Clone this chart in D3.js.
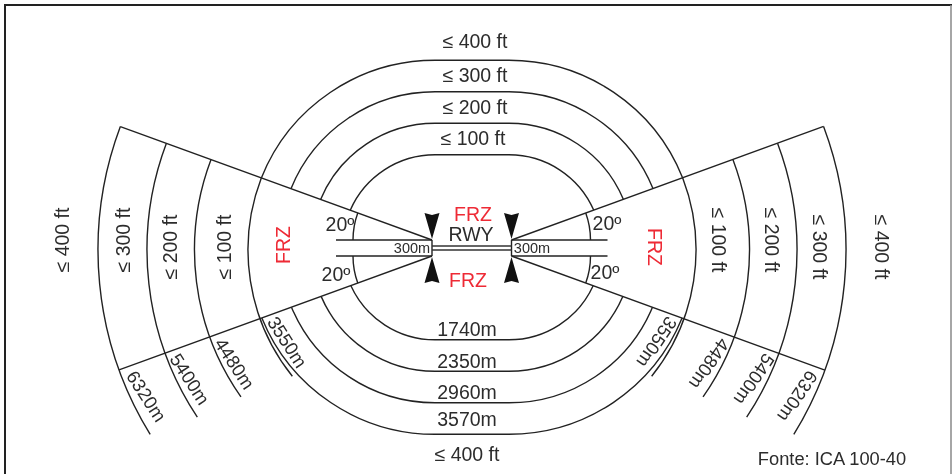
<!DOCTYPE html>
<html>
<head>
<meta charset="utf-8">
<script src="https://cdn.jsdelivr.net/npm/d3@7"></script>
<style>
  html, body { margin: 0; padding: 0; background: #fff; }
  svg { display: block; }
  #drawing { filter: blur(0.45px); }
  text { font-family: "Liberation Sans", Arial, sans-serif; fill: #2c2c2c; text-anchor: middle; dominant-baseline: central; }
</style>
</head>
<body>
<div id="chart"></div>
<script>
// limits in metres
const ringLimits = [1740, 2350, 2960, 3570];
const ringLabels = ["1740m", "2350m", "2960m", "3570m"];
const sectorLimits = [3550, 4480, 5400, 6320];
const sectorLabels = ["3550m", "4480m", "5400m", "6320m"];
const heightLabels = ["≤ 100 ft", "≤ 200 ft", "≤ 300 ft", "≤ 400 ft"];
const stripWidth = 300;
const stripLength = 1800;
const sectorAngle = 20;

const width = 952;
const height = 474;

// where the distance labels and the arc tails sit, degrees from the runway axis
const sectorTail = [38.7, 35.1, 33.5, 31.6];
const sectorLabelAngle = [29.5, 27.8, 26.4, 25.7];
const sectorLabelInset = [15, 12, 12.5, 15];

const runwayLeft = 435, runwayRight = 509;
const apexLeft = 432, apexRight = 511.5;
const sectorLeft = 450, sectorRight = 494;
const ringY = 247.3, sectorY = 250, axisY = 248;

const ringR = d3.scaleLinear().domain([1740, 3570]).range([92.5, 187]);
const sectorR = d3.scaleLinear().domain(sectorLimits).range([202, 255.5, 303, 352]);
const stripR = d3.scaleLinear().domain([0, 1800]).range([0, 96]);

const rad = d => d * Math.PI / 180;

const svg = d3.select("#chart").append("svg")
    .attr("width", width)
    .attr("height", height);

// frame
svg.append("path")
    .attr("d", `M5,474 V5 H952`)
    .attr("fill", "none")
    .attr("stroke", "#222")
    .attr("stroke-width", 2);
svg.append("line")
    .attr("x1", 951).attr("x2", 951).attr("y1", 5).attr("y2", 474)
    .attr("stroke", "#888").attr("stroke-width", 1.5);

const drawing = svg.append("g").attr("id", "drawing");

const lines = drawing.append("g")
    .attr("fill", "none")
    .attr("stroke", "#222")
    .attr("stroke-width", 1.4);

// angle (screen radians) where a circle meets the sector edge
function edgeAngle(side, vert, cx, cy, r) {
    const ax = side < 0 ? apexLeft : apexRight;
    const ay = axisY + vert * stripR(stripWidth / 2);
    const dx = side * Math.cos(rad(sectorAngle));
    const dy = vert * Math.sin(rad(sectorAngle));
    const fx = ax - cx, fy = ay - cy;
    const b = fx * dx + fy * dy;
    const c = fx * fx + fy * fy - r * r;
    const t = -b + Math.sqrt(b * b - c);
    return Math.atan2(fy + t * dy, fx + t * dx);
}

// stadium rings, top and bottom halves between the sectors
ringLimits.forEach(m => {
    const r = ringR(m);
    [-1, 1].forEach(vert => {
        const p = d3.path();
        const a0 = edgeAngle(-1, vert, runwayLeft, ringY, r);
        const a1 = edgeAngle(1, vert, runwayRight, ringY, r);
        p.arc(runwayLeft, ringY, r, a0, vert * Math.PI / 2, vert > 0);
        p.arc(runwayRight, ringY, r, vert * Math.PI / 2, a1, vert > 0);
        lines.append("path").attr("d", p.toString());
    });
});

// sector arcs, each one runs past the lower edge as a tail
sectorLimits.forEach((m, i) => {
    const r = sectorR(m);
    const left = d3.path();
    left.arc(sectorLeft, sectorY, r, edgeAngle(-1, -1, sectorLeft, sectorY, r), Math.PI - rad(sectorTail[i]), true);
    lines.append("path").attr("d", left.toString());
    const right = d3.path();
    right.arc(sectorRight, sectorY, r, edgeAngle(1, -1, sectorRight, sectorY, r), rad(sectorTail[i]), false);
    lines.append("path").attr("d", right.toString());
});

// sector edges, strip lines and the small 20 degree arcs
[-1, 1].forEach(side => {
    const ax = side < 0 ? apexLeft : apexRight;
    const cx = side < 0 ? sectorLeft : sectorRight;
    const outer = sectorR(sectorLimits[3]);
    [-1, 1].forEach(vert => {
        const ay = axisY + vert * stripR(stripWidth / 2);
        const a = edgeAngle(side, vert, cx, sectorY, outer);
        lines.append("line")
            .attr("x1", ax).attr("y1", ay)
            .attr("x2", cx + outer * Math.cos(a)).attr("y2", sectorY + outer * Math.sin(a));
        lines.append("line")
            .attr("x1", ax).attr("y1", ay)
            .attr("x2", ax + side * stripR(stripLength)).attr("y2", ay);
        const p = d3.path();
        const r = stripR(stripLength) - 17;
        const base = side < 0 ? Math.PI : 0;
        p.arc(ax, ay, r, base, base + side * vert * rad(sectorAngle), side * vert < 0);
        lines.append("path").attr("d", p.toString());
    });
    // threshold and the triangles
    lines.append("line")
        .attr("x1", ax).attr("x2", ax)
        .attr("y1", axisY - stripR(stripWidth / 2)).attr("y2", axisY + stripR(stripWidth / 2));
    [-1, 1].forEach(vert => {
        const tip = axisY + vert * 9;
        const base = axisY + vert * 35;
        drawing.append("path")
            .attr("d", `M${ax},${tip} L${ax - 7.5},${base} L${ax},${base - vert * 2} L${ax + 7.5},${base} Z`)
            .attr("fill", "#111");
    });
});

// runway
[-2, 2].forEach(off => {
    lines.append("line")
        .attr("x1", apexLeft).attr("x2", apexRight)
        .attr("y1", axisY + off).attr("y2", axisY + off)
        .attr("stroke", "#333").attr("stroke-width", 1.6);
});

// text
function label(str, x, y, size, rotate, fill) {
    drawing.append("text")
        .attr("transform", `translate(${x},${y}) rotate(${rotate || 0})`)
        .attr("font-size", size)
        .style("fill", fill || null)
        .text(str);
}
const big = 19.5, red = "#ee2a35";

// height limits over the top rings
label(heightLabels[3], 475, ringY - ringR(ringLimits[3]) - 19.5, big);
label(heightLabels[2], 475, ringY - ringR(ringLimits[2]) - 16.5, big);
label(heightLabels[1], 475, ringY - ringR(ringLimits[1]) - 16.5, big);
label(heightLabels[0], 473, ringY - ringR(ringLimits[0]) - 17, big);

// ring distances under the bottom rings
ringLabels.forEach((t, i) => {
    const above = i === 3 ? 15 : 10.5;
    label(t, 467, ringY + ringR(ringLimits[i]) - above, big);
});
label(heightLabels[3], 467, 454, big);

// height limits in the sectors
const leftMid = i => sectorLeft - (sectorR(sectorLimits[i]) + sectorR(sectorLimits[i + 1])) / 2;
const rightMid = i => sectorRight + (sectorR(sectorLimits[i]) + sectorR(sectorLimits[i + 1])) / 2;
label(heightLabels[0], leftMid(0) + 3, 247, big, -90);
label(heightLabels[1], leftMid(1) - 1, 247, big, -90);
label(heightLabels[2], leftMid(2), 240, big, -90);
label(heightLabels[3], sectorLeft - sectorR(sectorLimits[3]) - 36, 240, big, -90);
label(heightLabels[0], rightMid(0) - 4, 240, big, 90);
label(heightLabels[1], rightMid(1) - 1, 240, big, 90);
label(heightLabels[2], rightMid(2) - 2, 247, big, 90);
label(heightLabels[3], sectorRight + sectorR(sectorLimits[3]) + 36, 247, big, 90);

// sector distances along the tails
sectorLabels.forEach((t, i) => {
    const r = sectorR(sectorLimits[i]) - sectorLabelInset[i];
    const a = rad(sectorLabelAngle[i]);
    const dx = r * Math.cos(a), dy = r * Math.sin(a);
    label(t, sectorLeft - dx, sectorY + dy, 18.5, 57);
    label(t, sectorRight + dx, sectorY + dy, 18.5, 124);
});

label("FRZ", 283, 245, big, -90, red);
label("FRZ", 655, 247, big, 90, red);
label("FRZ", 473, 214, big, 0, red);
label("FRZ", 468, 280, big, 0, red);
label("RWY", 471, 234, big);
label("20º", 340, 224, big);
label("20º", 336, 274, big);
label("20º", 607, 223, big);
label("20º", 605, 272, big);
label("300m", 412, 248, 14.5);
label("300m", 532, 248, 14.5);
label("Fonte: ICA 100-40", 832, 458, 18.3);
</script>
</body>
</html>
